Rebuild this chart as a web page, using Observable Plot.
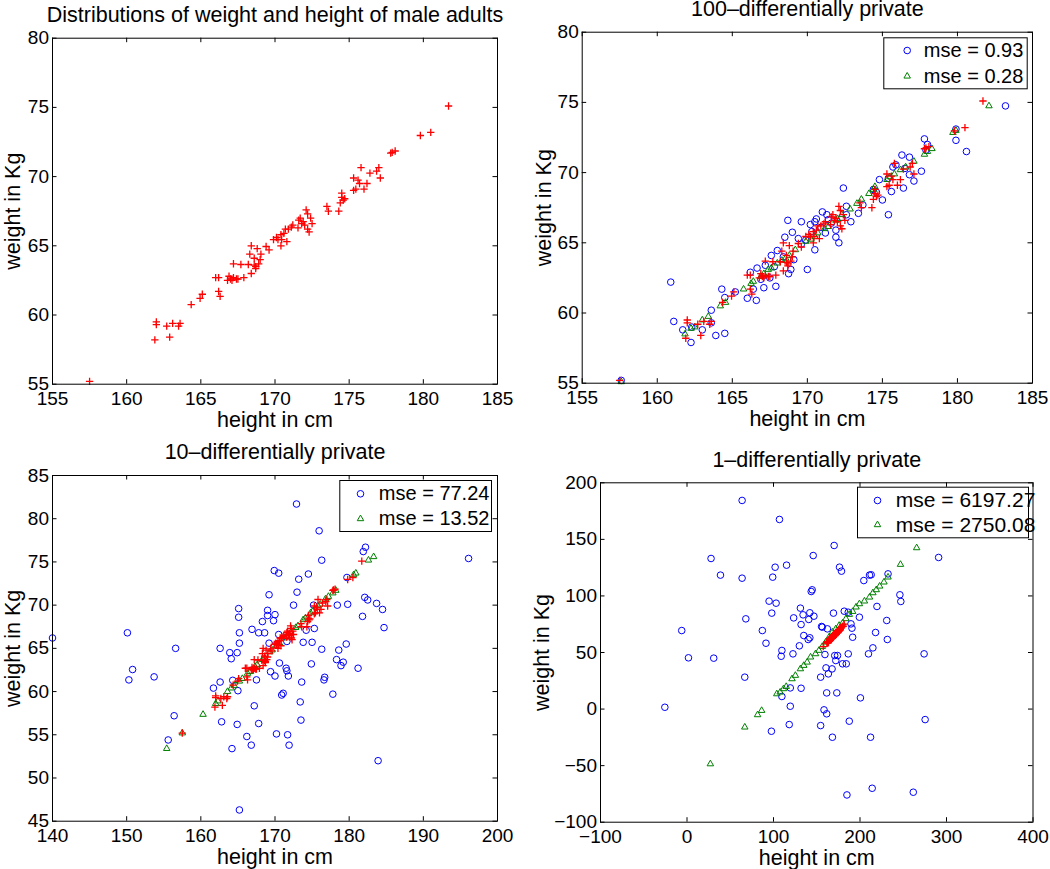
<!DOCTYPE html>
<html>
<head>
<meta charset="utf-8">
<script src="https://cdn.jsdelivr.net/npm/d3@7"></script>
<script src="https://cdn.jsdelivr.net/npm/@observablehq/plot@0.6"></script>
<style>
  body { margin: 0; background: #fff; }
  #chart { position: relative; width: 1050px; height: 869px; font-family: "Liberation Sans", Arial, Helvetica, sans-serif; color: #000; }
  #chart svg { position: absolute; overflow: visible; }
</style>
</head>
<body>
<div id="chart"></div>
<script>
// ---------------- DATA ----------------
// original data (red +), height in cm / weight in kg
const origH = [157.5,161.9,162.0,162.0,162.9,162.7,163.1,163.5,163.6,164.35,164.95,165.1,166.0,166.2,166.2,166.3,167.0,166.9,167.1,167.2,167.4,166.8,167.2,167.5,167.9,167.7,168.2,168.3,168.4,168.4,168.6,168.6,168.7,168.8,168.9,169.0,169.05,168.7,169.4,169.6,169.9,170.1,170.2,170.4,170.4,170.45,170.6,170.7,170.8,170.9,171.1,171.2,171.55,171.6,171.7,171.8,171.9,172.0,172.1,172.2,172.2,172.3,172.4,172.5,173.5,173.6,174.3,174.4,174.5,174.5,174.6,174.7,175.3,175.3,175.45,175.6,175.7,175.8,176.0,176.2,176.4,176.85,177.0,177.1,177.8,177.9,178.1,179.8,180.5,181.7];
const origW = [55.2,58.2,59.5,59.3,58.4,59.2,59.4,59.2,59.4,60.75,61.2,61.5,62.7,62.7,61.7,61.35,62.6,62.8,62.5,62.7,62.6,62.5,63.7,62.6,62.7,63.65,63.65,64.4,65.0,63.0,64.1,63.6,63.35,64.8,63.7,64.0,64.4,63.5,64.95,64.7,65.45,65.6,65.45,65.0,65.8,65.45,65.9,66.2,65.3,66.2,66.35,66.5,66.3,66.85,67.0,66.6,66.75,66.5,67.6,67.3,66.2,66.0,67.0,66.6,67.85,67.5,67.5,68.1,68.8,68.5,68.3,68.4,69.0,69.9,69.1,69.75,69.5,70.65,69.1,69.5,70.25,70.4,70.65,69.9,71.7,71.75,71.85,72.97,73.2,75.1];

// 100-differentially private
const p100BlueH = [157.6,160.9,161.1,161.7,162.25,163.0,163.6,163.6,163.9,164.3,164.5,164.5,166.0,166.2,166.4,166.6,166.65,167.1,167.2,167.5,167.6,167.9,168.0,168.5,168.7,168.75,168.9,169.0,169.1,169.4,169.6,170.0,170.2,170.5,170.5,170.6,171.0,171.3,171.4,171.9,171.9,172.1,172.4,172.6,172.6,172.9,173.4,174.4,174.8,175.0,175.4,175.6,175.7,175.9,176.3,176.4,176.8,176.8,177.1,177.6,177.8,178.0,179.9,179.9,180.6,183.2,166.9,167.8,168.4,169.6,170.3,170.9,171.6,172.3,173.7,174.6,175.4,176.5,177.9,165.2,171.2,162.3,169.9];
const p100BlueW = [55.2,62.2,59.4,58.8,57.9,58.8,60.2,59.3,58.4,61.7,61.1,58.55,61.05,62.9,61.7,60.9,63.2,61.8,63.4,62.5,64.1,61.9,64.45,65.4,66.6,62.8,63.1,65.75,63.8,65.3,66.5,63.1,66.3,64.5,66.5,66.7,67.2,67.0,66.65,65.9,65.4,65.0,68.9,67.0,67.6,66.5,67.1,68.8,69.5,68.05,67.0,68.65,70.4,70.55,71.25,68.9,71.1,69.85,69.4,70.1,72.4,72.0,73.1,72.3,71.5,74.75,62.4,63.3,64.0,64.9,65.8,66.1,66.4,66.8,67.7,68.6,69.6,70.3,71.6,61.5,65.7,59.0,65.2];
const p100GreenH = [157.6,161.85,162.25,162.5,163.0,163.4,164.2,164.55,165.75,166.25,166.4,166.9,167.1,167.4,167.6,168.0,168.3,168.55,168.8,169.2,169.9,170.25,170.5,170.7,171.15,171.4,171.9,172.0,172.3,172.85,173.3,173.6,174.1,174.4,174.5,175.3,175.5,175.8,176.2,176.55,177.1,177.8,178.0,178.3,179.7,179.9,182.1];
const p100GreenW = [55.1,58.5,58.9,59.0,59.5,59.75,60.5,60.75,61.7,62.1,62.25,62.6,62.8,63.1,63.2,63.55,63.75,63.9,64.1,64.5,65.1,65.25,65.45,65.7,66.0,66.15,66.6,66.7,67.0,67.4,67.8,68.1,68.5,68.8,69.0,69.5,69.7,69.9,70.2,70.4,70.8,71.3,71.5,71.7,72.85,73.0,74.75];

// 10-differentially private
const p10BlueH = [140.0,150.1,150.3,150.8,153.7,155.6,156.4,156.6,161.7,162.6,162.6,162.8,163.9,164.1,164.2,164.3,164.9,164.9,165.0,165.1,165.1,165.2,165.2,165.2,166.2,166.8,166.9,167.2,167.5,167.8,167.8,168.3,168.6,169.0,169.0,169.2,169.2,169.4,169.8,169.9,170.0,170.0,170.2,170.5,170.5,170.6,170.9,171.1,171.5,171.6,171.7,171.8,171.9,171.6,172.5,172.9,172.97,173.2,173.4,173.5,173.6,173.8,174.2,174.5,174.9,175.0,175.3,175.2,175.95,176.3,176.3,176.6,176.7,177.8,178.3,178.4,178.6,178.9,179.2,179.6,179.7,179.8,181.2,181.8,181.9,182.2,182.1,182.5,183.7,183.9,184.5,184.7,196.1];
const p10BlueW = [66.2,66.8,61.35,62.55,61.7,54.4,57.2,65.0,60.4,61.1,65.0,56.5,64.5,63.8,53.4,61.3,64.5,56.2,60.1,69.6,68.6,65.6,66.8,46.3,54.8,53.8,67.2,58.35,61.35,56.3,66.8,68.1,66.8,69.4,68.8,71.2,65.6,62.3,68.2,74.0,68.9,61.8,55.1,73.7,66.6,63.3,59.6,59.8,62.7,62.4,55.0,61.8,53.8,65.8,70.0,81.7,71.5,73.0,58.8,56.7,61.1,65.7,67.1,73.6,63.2,65.7,67.3,70.0,78.6,75.2,64.9,61.35,61.65,59.7,63.7,70.0,64.8,63.0,63.4,65.5,73.2,70.1,62.7,68.7,76.2,76.7,70.9,70.6,70.2,52.0,69.5,67.4,75.4];
const p10GreenH = [155.4,157.5,160.3,162.0,162.3,163.6,164.1,164.5,165.2,165.6,166.3,166.6,167.3,167.6,168.3,168.6,169.3,169.6,170.2,170.6,171.3,171.6,172.1,172.8,173.1,173.8,174.1,174.8,175.1,175.8,176.1,176.8,177.2,177.8,178.2,180.6,180.9,182.6,183.3];
const p10GreenW = [53.4,55.2,57.35,58.6,58.9,60.0,60.4,60.7,61.2,61.5,62.1,62.3,62.9,63.1,63.7,63.9,64.6,64.8,65.3,65.6,66.2,66.4,66.8,67.4,67.6,68.3,68.5,69.1,69.3,69.9,70.1,70.7,71.0,71.4,71.7,73.5,73.7,75.2,75.6];

// 1-differentially private
const p1BlueH = [-25.6,-6.1,1.7,27.8,30.9,38.7,63.7,63.7,66.8,68.0,87.1,91.3,94.9,97.6,98.0,99.1,101.9,103.0,106.9,108.9,109.7,109.7,115.1,118.2,119.4,119.4,122.5,123.3,129.9,131.1,131.9,131.9,134.2,135.0,140.1,140.8,142.0,142.0,143.6,144.7,145.9,146.7,154.5,154.5,155.6,156.4,158.4,159.5,160.7,161.5,161.5,162.3,163.4,167.7,168.1,170.1,169.3,170.8,172.0,173.2,174.0,176.3,178.6,179.8,181.8,184.1,184.9,186.4,186.4,187.6,189.6,190.7,191.5,199.3,200.5,204.4,209.8,211.0,212.9,212.2,214.9,214.1,218.0,219.6,230.9,231.6,232.4,246.1,247.2,261.6,274.1,275.3,290.9];
const p1BlueW = [1.6,69.4,45.3,133.1,45.0,118.4,184.4,115.7,28.2,79.75,69.4,58.2,95.4,-19.6,84.8,116.6,125.4,93.6,167.6,46.7,11.1,51.8,127.2,-13.7,18.7,2.5,48.8,80.6,55.9,89.2,74.7,18.4,83.3,65.0,61.5,79.2,85.1,63.0,103.9,105.4,135.7,82.1,28.2,-14.6,73.0,72.4,-0.7,48.2,36.4,-4.2,14.3,70.9,31.1,35.5,-24.9,144.6,84.8,47.3,42.9,14.3,47.3,125.4,121.9,40.0,86.5,40.0,-75.9,85.6,48.8,-10.7,75.3,71.5,63.5,81.2,9.9,113.6,48.8,118.4,118.7,-24.9,54.1,-70.0,67.7,90.7,78.3,61.5,119.5,101.0,95.1,-73.5,48.8,-9.3,134.0];
const p1GreenH = [27.0,66.8,81.6,86.3,103.8,107.7,111.6,114.7,121.4,125.3,131.1,135.0,138.9,142.8,148.6,152.5,156.4,160.3,164.2,168.1,172.0,175.9,179.8,183.7,187.6,191.5,195.4,199.3,205.1,211.0,214.9,218.8,222.7,227.7,232.4,246.8,265.5];
const p1GreenW = [-48.5,-16.0,-5.1,-1.3,13.4,14.9,17.9,19.9,26.7,29.7,35.5,38.5,41.4,45.9,48.8,51.8,55.3,59.1,63.5,68.0,70.9,73.9,75.9,79.8,83.6,86.2,90.1,93.0,95.4,98.9,102.7,105.4,108.6,112.2,116.6,127.8,142.5];

// axes ticks and texts
const ticks155 = [155,160,165,170,175,180,185];
const ticks55 = [55,60,65,70,75,80];
const ticks140 = [140,150,160,170,180,190,200];
const ticks45 = [45,50,55,60,65,70,75,80,85];
const ticksM100 = [-100,0,100,200,300,400];
const ticksM100y = [-100,-50,0,50,100,150,200];
const titles = ["Distributions of weight and height of male adults","100\u2013differentially private","10\u2013differentially private","1\u2013differentially private"];
const xLabel = "height in cm";
const yLabel = "weight in Kg";
const legend100 = ["mse = 0.93","mse = 0.28"];
const legend10 = ["mse = 77.24","mse = 13.52"];
const legend1 = ["mse = 6197.27","mse = 2750.08"];

// ---------------- DRAW ----------------
const toRows = (H, W) => H.map((h, i) => ({h, w: W[i]}));
const orig = toRows(origH, origW);
const fmt = d => d < 0 ? "\u2212" + (-d) : String(d);
const RED = "#ff0000", BLUE = "#0000ff", GREEN = "#008000";

function panel(p) {
  const iw = p.width - p.ml - p.mr, ih = p.height - p.mt - p.mb;
  const T = 4.5;
  const marks = [];
  if (p.blue) marks.push(Plot.dot(p.blue, {x: "h", y: "w", symbol: "circle", r: 3.3, stroke: BLUE, strokeWidth: 1, fill: "none"}));
  if (p.green) marks.push(Plot.dot(p.green, {x: "h", y: "w", symbol: "triangle2", r: 3.1, stroke: GREEN, strokeWidth: 1, fill: "none"}));
  marks.push(Plot.dot(orig, {x: "h", y: "w", symbol: "plus", r: 2.5, stroke: RED, strokeWidth: 1.3}));
  // inward ticks on all four sides
  marks.push(Plot.tickX(p.xt, {x: d => d, insetTop: ih - T, stroke: "#000"}));
  marks.push(Plot.tickX(p.xt, {x: d => d, insetBottom: ih - T, stroke: "#000"}));
  marks.push(Plot.tickY(p.yt, {y: d => d, insetRight: iw - T, stroke: "#000"}));
  marks.push(Plot.tickY(p.yt, {y: d => d, insetLeft: iw - T, stroke: "#000"}));
  marks.push(Plot.axisX(p.xt, {tickSize: 0, tickPadding: 7, label: null, tickFormat: fmt, fontSize: 19, fill: "#000"}));
  marks.push(Plot.axisY(p.yt, {tickSize: 0, tickPadding: 3.5, label: null, tickFormat: fmt, fontSize: 19, fill: "#000"}));
  marks.push(Plot.frame({stroke: "#000", strokeWidth: 1}));
  if (p.legend) {
    const L = p.lg;
    marks.push(Plot.frame({insetLeft: iw - L.right - L.w, insetRight: L.right, insetTop: L.top, insetBottom: ih - L.top - L.h, fill: "#fff", stroke: "#000", strokeWidth: 1}));
    const syms = [["circle", BLUE, 3.3], ["triangle2", GREEN, 3.1]];
    p.legend.forEach((t, i) => {
      marks.push(Plot.dot([t], {frameAnchor: "top-right", dx: L.mdx, dy: L.rows[i], symbol: syms[i][0], r: syms[i][2], stroke: syms[i][1], fill: "none", strokeWidth: 1}));
      marks.push(Plot.text([t], {frameAnchor: "top-right", dx: L.tdx, dy: L.rows[i], textAnchor: "start", lineAnchor: "middle", fontSize: L.font, fill: "#000"}));
    });
  }
  marks.push(Plot.text([p.title], {frameAnchor: "top", dy: -23, textAnchor: "middle", lineAnchor: "middle", fontSize: 21.5, fill: "#000"}));
  marks.push(Plot.text([xLabel], {frameAnchor: "bottom", dy: 35.5, textAnchor: "middle", lineAnchor: "middle", fontSize: 21.5, fill: "#000"}));
  marks.push(Plot.text([yLabel], {frameAnchor: "left", dx: p.ydx, rotate: -90, textAnchor: "middle", lineAnchor: "middle", fontSize: 21.5, fill: "#000"}));

  const svg = Plot.plot({
    width: p.width, height: p.height,
    marginLeft: p.ml, marginRight: p.mr, marginTop: p.mt, marginBottom: p.mb,
    x: {domain: p.xd, label: null},
    y: {domain: p.yd, label: null},
    style: {fontFamily: '"Liberation Sans", Arial, Helvetica, sans-serif', fontSize: "19px", color: "#000", background: "transparent", overflow: "visible"},
    marks
  });
  svg.style.left = p.left + "px";
  svg.style.top = p.top + "px";
  document.getElementById("chart").appendChild(svg);
}

panel({left: 0, top: 0, width: 525, height: 430, ml: 52, mr: 28, mt: 37.7, mb: 46.3,
  xd: [155, 185], yd: [55, 80], xt: ticks155, yt: ticks55, title: titles[0], ydx: -39});

panel({left: 525, top: 0, width: 525, height: 430, ml: 56.7, mr: 18, mt: 31.7, mb: 47.3,
  xd: [155, 185], yd: [55, 80], xt: ticks155, yt: ticks55, title: titles[1], ydx: -38,
  blue: toRows(p100BlueH, p100BlueW), green: toRows(p100GreenH, p100GreenW),
  legend: legend100, lg: {right: 5.3, top: 5.6, w: 143.4, h: 51, mdx: -125.3, tdx: -108.7, rows: [18.3, 44], font: 20}});

panel({left: 0, top: 430, width: 525, height: 439, ml: 52, mr: 28, mt: 45, mb: 48.3,
  xd: [140, 200], yd: [45, 85], xt: ticks140, yt: ticks45, title: titles[2], ydx: -39,
  blue: toRows(p10BlueH, p10BlueW), green: toRows(p10GreenH, p10GreenW),
  legend: legend10, lg: {right: 6, top: 5, w: 151.7, h: 51, mdx: -137, tdx: -118.7, rows: [18.3, 43.3], font: 20}});

panel({left: 525, top: 430, width: 525, height: 439, ml: 75, mr: 17.5, mt: 52.3, mb: 47.3,
  xd: [-100, 400], yd: [-100, 200], xt: ticksM100, yt: ticksM100y, title: titles[3], ydx: -58,
  blue: toRows(p1BlueH, p1BlueW), green: toRows(p1GreenH, p1GreenW),
  legend: legend1, lg: {right: 4.5, top: 4.4, w: 171, h: 50.6, mdx: -155.5, tdx: -137.2, rows: [17.7, 42], font: 21}});
</script>
</body>
</html>
